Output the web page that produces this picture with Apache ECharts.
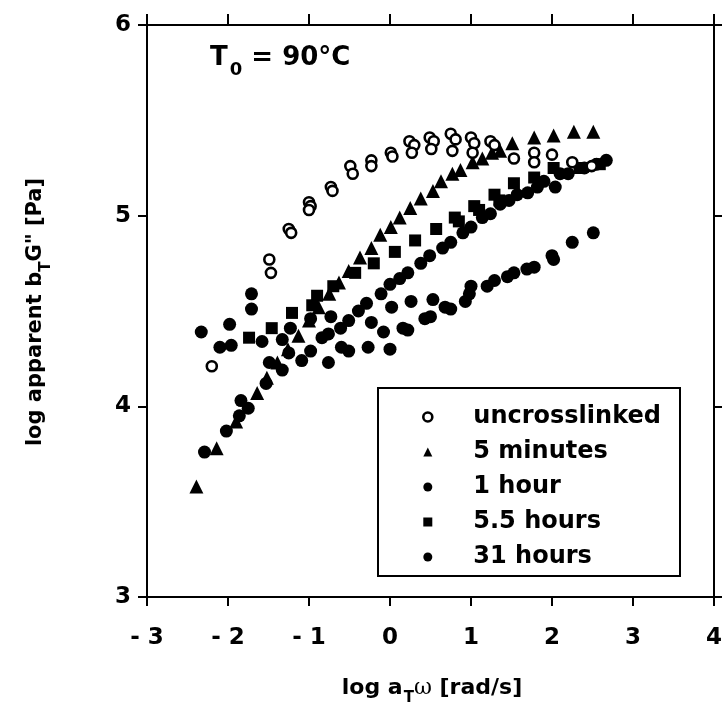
<!DOCTYPE html>
<html>
<head>
<meta charset="utf-8">
<script src="https://cdn.jsdelivr.net/npm/echarts@6/dist/echarts.min.js"></script>
<style>
html,body{margin:0;padding:0;background:#fff;}
#chart{width:725px;height:706px;}
</style>
</head>
<body>
<div id="chart"></div>
<script>
// ---- data (log aTω, log apparent bTG") ----
const uncrosslinked = [
  [-2.20,4.21],[-1.49,4.77],[-1.47,4.70],[-1.25,4.93],[-1.22,4.91],
  [-1.00,5.07],[-0.98,5.05],[-1.00,5.03],[-0.73,5.15],[-0.71,5.13],
  [-0.49,5.26],[-0.46,5.22],[-0.23,5.29],[-0.23,5.26],[0.01,5.33],[0.03,5.31],
  [0.24,5.39],[0.30,5.37],[0.27,5.33],[0.49,5.41],[0.54,5.39],[0.51,5.35],
  [0.75,5.43],[0.81,5.40],[0.77,5.34],[1.00,5.41],[1.04,5.38],[1.02,5.33],
  [1.24,5.39],[1.29,5.37],[1.53,5.30],[1.78,5.33],[1.78,5.28],[2.00,5.32],
  [2.25,5.28],[2.49,5.26]
];
const fiveMinutes = [
  [-2.39,3.58],[-2.14,3.78],[-1.90,3.92],[-1.64,4.07],[-1.52,4.15],[-1.39,4.23],
  [-1.26,4.30],[-1.13,4.37],[-1.00,4.45],[-0.88,4.52],[-0.75,4.59],[-0.63,4.65],
  [-0.51,4.71],[-0.37,4.78],[-0.23,4.83],[-0.12,4.90],[0.01,4.94],[0.12,4.99],
  [0.25,5.04],[0.38,5.09],[0.53,5.13],[0.63,5.18],[0.77,5.22],[0.87,5.24],
  [1.02,5.28],[1.14,5.30],[1.26,5.33],[1.36,5.34],[1.51,5.38],[1.78,5.41],
  [2.02,5.42],[2.27,5.44],[2.51,5.44]
];
const oneHour = [
  [-2.29,3.76],[-2.02,3.87],[-1.86,3.95],[-1.84,4.03],[-1.75,3.99],[-1.53,4.12],
  [-1.49,4.23],[-1.33,4.19],[-1.25,4.28],[-1.09,4.24],[-0.98,4.29],[-0.84,4.36],
  [-0.76,4.38],[-0.61,4.41],[-0.51,4.45],[-0.39,4.50],[-0.29,4.54],[-0.11,4.59],
  [0.00,4.64],[0.12,4.67],[0.22,4.70],[0.38,4.75],[0.49,4.79],[0.65,4.83],
  [0.75,4.86],[0.90,4.91],[1.00,4.94],[1.14,4.99],[1.24,5.01],[1.36,5.06],
  [1.47,5.08],[1.57,5.11],[1.70,5.12],[1.82,5.15],[1.90,5.18],[2.04,5.15],
  [2.10,5.22],[2.20,5.22],[2.40,5.25],[2.55,5.27],[2.67,5.29]
];
const fivePointFiveHours = [
  [-1.74,4.36],[-1.46,4.41],[-1.21,4.49],[-0.96,4.53],[-0.90,4.58],[-0.70,4.63],
  [-0.43,4.70],[-0.20,4.75],[0.06,4.81],[0.31,4.87],[0.57,4.93],[0.80,4.99],
  [0.85,4.97],[1.04,5.05],[1.10,5.03],[1.29,5.11],[1.35,5.08],[1.53,5.17],
  [1.78,5.20],[2.02,5.25],[2.34,5.25],[2.59,5.27]
];
const thirtyOneHours = [
  [-2.33,4.39],[-2.10,4.31],[-1.98,4.43],[-1.96,4.32],[-1.71,4.59],[-1.71,4.51],
  [-1.58,4.34],[-1.33,4.35],[-1.23,4.41],[-0.98,4.46],[-0.76,4.23],[-0.73,4.47],
  [-0.60,4.31],[-0.51,4.29],[-0.27,4.31],[-0.23,4.44],[-0.08,4.39],[0.00,4.30],
  [0.02,4.52],[0.16,4.41],[0.22,4.40],[0.26,4.55],[0.43,4.46],[0.50,4.47],
  [0.53,4.56],[0.68,4.52],[0.75,4.51],[0.93,4.55],[0.98,4.59],[1.00,4.63],
  [1.20,4.63],[1.29,4.66],[1.45,4.68],[1.53,4.70],[1.69,4.72],[1.78,4.73],
  [2.00,4.79],[2.02,4.77],[2.25,4.86],[2.51,4.91]
];
const seriesNames = ['uncrosslinked','5 minutes','1 hour','5.5 hours','31 hours'];
const xTickLabels = ['- 3','- 2','- 1','0','1','2','3','4'];
const yTickLabels = ['3','4','5','6'];
const xMin = -3, xMax = 4, yMin = 3, yMax = 6;

const FONT = 'DejaVu Sans';
const chart = echarts.init(document.getElementById('chart'), null, {renderer:'canvas'});

const axisLine = {show:true, onZero:false, lineStyle:{color:'#000', width:2}};
const tick = (len) => ({show:true, inside:false, length:len, lineStyle:{color:'#000', width:2}});
const solid = {color:'#000', opacity:1};

const option = {
  backgroundColor:'#fff',
  animation:false,
  grid:{left:147, top:25, width:571, height:572},
  xAxis:[
    {type:'value', min:xMin, max:xMax, interval:1, position:'bottom',
     axisLine, axisTick:tick(9), splitLine:{show:false},
     axisLabel:{margin:30, color:'#000', fontFamily:FONT, fontWeight:'bold', fontSize:23,
       formatter:(v)=>xTickLabels[Math.round(v - xMin)]}},
    {type:'value', min:xMin, max:xMax, interval:1, position:'top',
     axisLine, axisTick:tick(11), splitLine:{show:false}, axisLabel:{show:false}}
  ],
  yAxis:[
    {type:'value', min:yMin, max:yMax, interval:1, position:'left',
     axisLine, axisTick:tick(9), splitLine:{show:false},
     axisLabel:{margin:16, color:'#000', fontFamily:FONT, fontWeight:'bold', fontSize:23,
       formatter:(v)=>yTickLabels[Math.round(v - yMin)]}},
    {type:'value', min:yMin, max:yMax, interval:1, position:'right',
     axisLine, axisTick:tick(8), splitLine:{show:false}, axisLabel:{show:false}}
  ],
  legend:{
    orient:'vertical', left:417, top:400, itemGap:11, itemWidth:9, itemHeight:9,
    data:seriesNames, selectedMode:false, z:20,
    textStyle:{color:'#000', fontFamily:FONT, fontWeight:'bold', fontSize:24, lineHeight:24,
      padding:[0,0,0,36]},
    itemStyle:{borderWidth:'inherit', opacity:1}
  },
  graphic:[
    {type:'rect', z:10, shape:{x:378, y:388, width:302, height:188},
     style:{fill:'#fff', stroke:'#000', lineWidth:2}},
    {type:'text', left:210, top:45, z:10,
     style:{text:'{a|T}{s|0}{a| = 90°C}', rich:{
       a:{fontFamily:FONT, fontWeight:'bold', fontSize:26, lineHeight:28, verticalAlign:'top', fill:'#000'},
       s:{fontFamily:FONT, fontWeight:'bold', fontSize:18, lineHeight:18, padding:[16,0,0,2], verticalAlign:'top', fill:'#000'}}}},
    {type:'text', x:432, y:690, z:10,
     style:{text:'{a|log a}{s|T}{w|ω}{a| [rad/s]}', align:'center', verticalAlign:'middle', rich:{
       a:{fontFamily:FONT, fontWeight:'bold', fontSize:22, lineHeight:26, verticalAlign:'top', fill:'#000'},
       s:{fontFamily:FONT, fontWeight:'bold', fontSize:15, lineHeight:15, padding:[14,0,0,1], verticalAlign:'top', fill:'#000'},
       w:{fontFamily:'DejaVu Serif', fontSize:22, lineHeight:26, verticalAlign:'top', fill:'#000'}}}},
    {type:'text', x:38, y:312, rotation:Math.PI/2, z:10,
     style:{text:'{a|log apparent b}{s|T}{a|G" [Pa]}', align:'center', verticalAlign:'middle', rich:{
       a:{fontFamily:FONT, fontWeight:'bold', fontSize:21, lineHeight:25, verticalAlign:'top', fill:'#000'},
       s:{fontFamily:FONT, fontWeight:'bold', fontSize:15, lineHeight:15, padding:[13,0,0,0], verticalAlign:'top', fill:'#000'}}}}
  ],
  series:[
    {name:'5 minutes', type:'scatter', data:fiveMinutes, symbol:'triangle', symbolSize:14,
     itemStyle:solid},
    {name:'1 hour', type:'scatter', data:oneHour, symbol:'circle', symbolSize:13,
     itemStyle:solid},
    {name:'5.5 hours', type:'scatter', data:fivePointFiveHours, symbol:'rect', symbolSize:12,
     itemStyle:solid},
    {name:'31 hours', type:'scatter', data:thirtyOneHours, symbol:'circle', symbolSize:13,
     itemStyle:solid},
    {name:'uncrosslinked', type:'scatter', data:uncrosslinked, symbol:'circle', symbolSize:10,
     itemStyle:{color:'#fff', borderColor:'#000', borderWidth:2.6, opacity:1}}
  ]
};
chart.setOption(option);
</script>
</body>
</html>
